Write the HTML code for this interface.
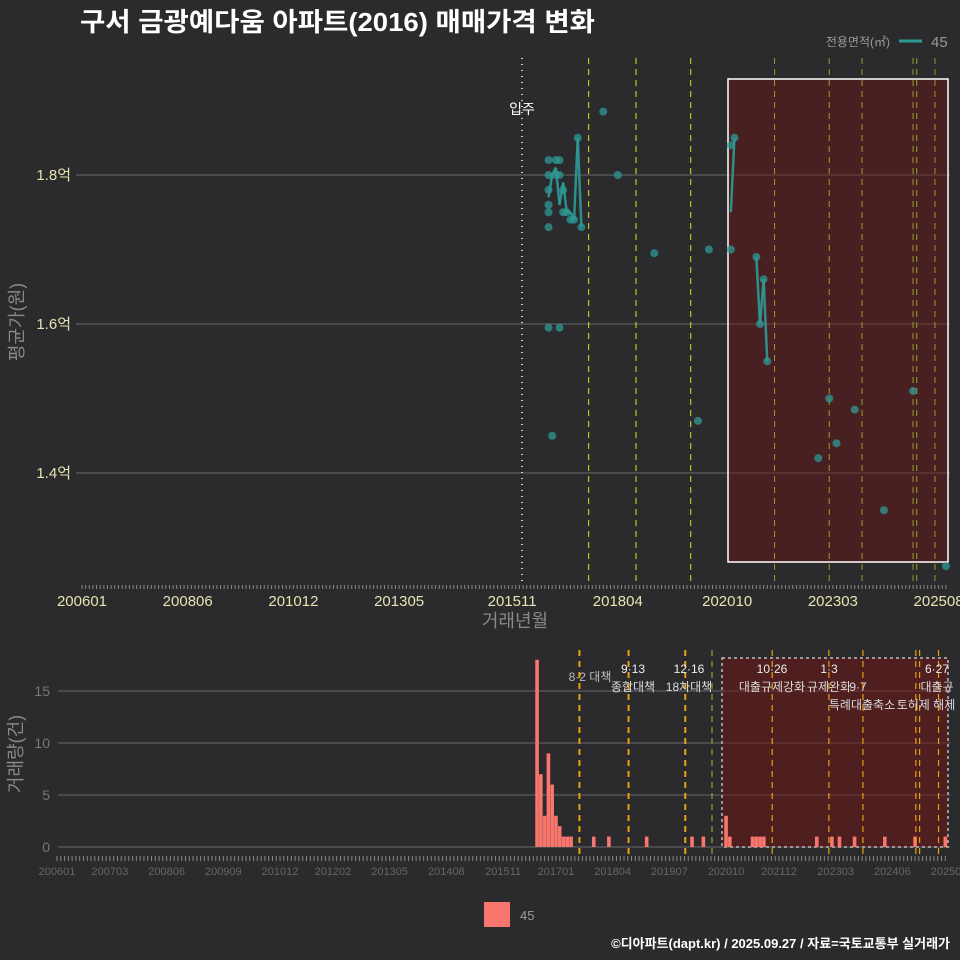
<!DOCTYPE html>
<html><head><meta charset="utf-8"><style>
body{margin:0;background:#2b2b2d;}
svg{display:block;font-family:"Liberation Sans","Noto Sans CJK KR",sans-serif;}
</style></head><body>
<svg id="c" width="960" height="960" viewBox="0 0 960 960">
<rect width="960" height="960" fill="#2b2b2d"/>
<text x="80" y="31" fill="#fff" font-size="26" font-weight="bold" textLength="515" lengthAdjust="spacingAndGlyphs">구서 금광예다움 아파트(2016) 매매가격 변화</text>
<text x="890" y="46" fill="#9a9a9a" font-size="12" text-anchor="end">전용면적(㎡)</text>
<line x1="899" y1="41" x2="922" y2="41" stroke="#2e9a96" stroke-width="3"/>
<text x="931" y="47" fill="#9a9a9a" font-size="15">45</text>
<g id="topPanel"></g>
<g id="botPanel"></g>
<rect x="484" y="902" width="26" height="25" fill="#f8766d"/>
<text x="520" y="920" fill="#9a9a9a" font-size="13">45</text>
<text x="950" y="948" fill="#fff" font-size="13" font-weight="bold" text-anchor="end">©디아파트(dapt.kr) / 2025.09.27 / 자료=국토교통부 실거래가</text>
</svg>
<script>
// month index: 0 = 2006-01
const pointMonths=[128,128,128,128,128,128,128,129,130,130,131,131,131,132,132,133,134,135,136,137,143,147,157,169,172,178,178,179,185,186,187,188,202,205,207,212,220,228,237];
const pointValues=[1.82,1.80,1.78,1.76,1.75,1.73,1.595,1.45,1.82,1.80,1.82,1.80,1.595,1.78,1.75,1.75,1.74,1.74,1.85,1.73,1.885,1.80,1.695,1.47,1.70,1.70,1.84,1.85,1.69,1.60,1.66,1.55,1.42,1.50,1.44,1.485,1.35,1.51,1.275];
const lineMonths=[128,129,130,131,132,133,134,135,136,137,178,179,185,186,187,188];
const lineValues=[1.77,1.80,1.81,1.76,1.79,1.75,1.75,1.74,1.85,1.73,1.75,1.85,1.69,1.60,1.66,1.55];
const yTicks=[1.4,1.6,1.8];
const yTickLabels=["1.4억","1.6억","1.8억"];
const topXLabels=["200601","200806","201012","201305","201511","201804","202010","202303","202508"];
const topXLabelMonths=[0,29,58,87,118,147,177,206,235];
const barMonths=[127,128,129,130,131,132,133,134,135,136,142,146,156,168,171,177,178,184,185,186,187,201,205,207,211,219,227,235];
const barCounts=[18,7,3,9,6,3,2,1,1,1,1,1,1,1,1,3,1,1,1,1,1,1,1,1,1,1,1,1];
const barYTicks=[0,5,10,15];
const botXLabels=["200601","200703","200806","200909","201012","201202","201305","201408","201511","201701","201804","201907","202010","202112","202303","202406","202509"];
const botXLabelMonths=[0,14,29,44,59,73,88,103,118,132,147,162,177,191,206,221,236];
const eventMonths=[139,152,167,190,205,214,228,229,234];
const NS="http://www.w3.org/2000/svg";
function el(p,t,a){const e=document.createElementNS(NS,t);for(const k in a)e.setAttribute(k,a[k]);p.appendChild(e);return e;}
const topG=document.getElementById('topPanel'),botG=document.getElementById('botPanel');
const tx=m=>82+m*3.645, ty=v=>175+(1.8-v)*745;
const bx=m=>57+m*3.78, by=c=>847-c*10.4;
// top panel
for(let i=0;i<yTicks.length;i++){
 const g=el(topG,'line',{x1:76,x2:950,y1:ty(yTicks[i]),y2:ty(yTicks[i]),stroke:'#6a6a6a','stroke-width':1});
 
 
 const t=el(topG,'text',{x:71,y:ty(yTicks[i])+5,fill:'#e8e4b0','font-size':15,'text-anchor':'end'});t.textContent=yTickLabels[i];
 
 
}
const rect=el(topG,'rect',{x:728,y:79,width:220,height:483,fill:'rgba(110,20,20,0.45)',stroke:'#fff','stroke-width':1.5});


const mv=el(topG,'line',{x1:522,x2:522,y1:58,y2:585,stroke:'#ccc','stroke-width':2,'stroke-dasharray':'1 5'});


const mvt=el(topG,'text',{x:522,y:114,fill:'#fff','font-size':14,'text-anchor':'middle'});mvt.textContent='입주';


for(const m of eventMonths){
 const l=el(topG,'line',{x1:tx(m),x2:tx(m),y1:58,y2:585,stroke:m>=185?'#9a9a30':'#e0e020','stroke-width':1,'stroke-dasharray':'6 5'});
 
 
}
for(let i=0;i<lineMonths.length-1;i++){
 if(lineMonths[i+1]-lineMonths[i]!==1)continue;
 const l=el(topG,'line',{x1:tx(lineMonths[i]),y1:ty(lineValues[i]),x2:tx(lineMonths[i+1]),y2:ty(lineValues[i+1]),stroke:'#2e9a96','stroke-width':2.5,opacity:0.9});
 
 
}
for(let i=0;i<pointMonths.length;i++){
 const c=el(topG,'circle',{cx:tx(pointMonths[i]),cy:ty(pointValues[i]),r:4,fill:'#2e9a96',opacity:0.75});
 
 
}
for(let m=0;m<=237;m++){el(topG,'line',{x1:tx(m),x2:tx(m),y1:585,y2:589,stroke:'#888','stroke-width':1});}
for(let i=0;i<topXLabels.length;i++){
 const t=el(topG,'text',{x:tx(topXLabelMonths[i]),y:606,fill:'#e8e4b0','font-size':15,'text-anchor':'middle'});t.textContent=topXLabels[i];
 
 
}
let t=el(topG,'text',{x:515,y:627,fill:'#888','font-size':18,'text-anchor':'middle'});t.textContent='거래년월';


t=el(topG,'text',{x:0,y:0,fill:'#888','font-size':18,'text-anchor':'middle',transform:'translate(23 322) rotate(-90)'});t.textContent='평균가(원)';


// bottom panel
for(const v of barYTicks){
 const g=el(botG,'line',{x1:58,x2:950,y1:by(v),y2:by(v),stroke:'#6a6a6a','stroke-width':1});
 
 
 const tt=el(botG,'text',{x:50,y:by(v)+5,fill:'#777','font-size':14,'text-anchor':'end'});tt.textContent=v;
 
 
}
const r2=el(botG,'rect',{x:722,y:658,width:226,height:189,fill:'rgba(110,20,20,0.55)',stroke:'#bbb','stroke-width':1.5,'stroke-dasharray':'3 3'});


for(let i=0;i<barMonths.length;i++){
 const b=el(botG,'rect',{x:bx(barMonths[i])-1.8,y:by(barCounts[i]),width:3.6,height:barCounts[i]*10.4,fill:'#f8766d'});
 
 
}
const olive=el(botG,'line',{x1:712,x2:712,y1:650,y2:855,stroke:'#8a8a30','stroke-width':1.5,'stroke-dasharray':'6 5'});


for(let i=0;i<eventMonths.length;i++){
 const x=bx(eventMonths[i])-3;
 const l=el(botG,'line',{x1:x,x2:x,y1:650,y2:855,stroke:'#e8a010','stroke-width':i<3?2:1.2,'stroke-dasharray':'6 5'});
 
 
}
const notes=[[590,681,"8·2 대책",'#bbb'],[633,673,"9·13",'#eee'],[633,691,"종합대책",'#ddd'],[689,673,"12·16",'#eee'],[689,691,"18차대책",'#ddd'],[772,673,"10·26",'#eee'],[772,691,"대출규제강화",'#ddd'],[829,673,"1·3",'#eee'],[829,691,"규제완화",'#ddd'],[858,691,"9·7",'#ddd'],[862,709,"특례대출축소",'#ddd'],[926,709,"토허제 해제",'#ddd'],[937,673,"6·27",'#eee'],[937,691,"대출규",'#ddd']];
for(const [x,y,s,c] of notes){
 const n=el(botG,'text',{x:x,y:y,fill:c,'font-size':12,'text-anchor':'middle'});n.textContent=s;
 
 
}
for(let m=0;m<=235;m++){el(botG,'line',{x1:bx(m),x2:bx(m),y1:856,y2:861,stroke:'#888','stroke-width':1});}
for(let i=0;i<botXLabels.length;i++){
 const tt=el(botG,'text',{x:bx(botXLabelMonths[i]),y:875,fill:'#666','font-size':11,'text-anchor':'middle'});tt.textContent=botXLabels[i];
 
 
}
t=el(botG,'text',{x:0,y:0,fill:'#888','font-size':18,'text-anchor':'middle',transform:'translate(22 754) rotate(-90)'});t.textContent='거래량(건)';


</script>
</body></html>
